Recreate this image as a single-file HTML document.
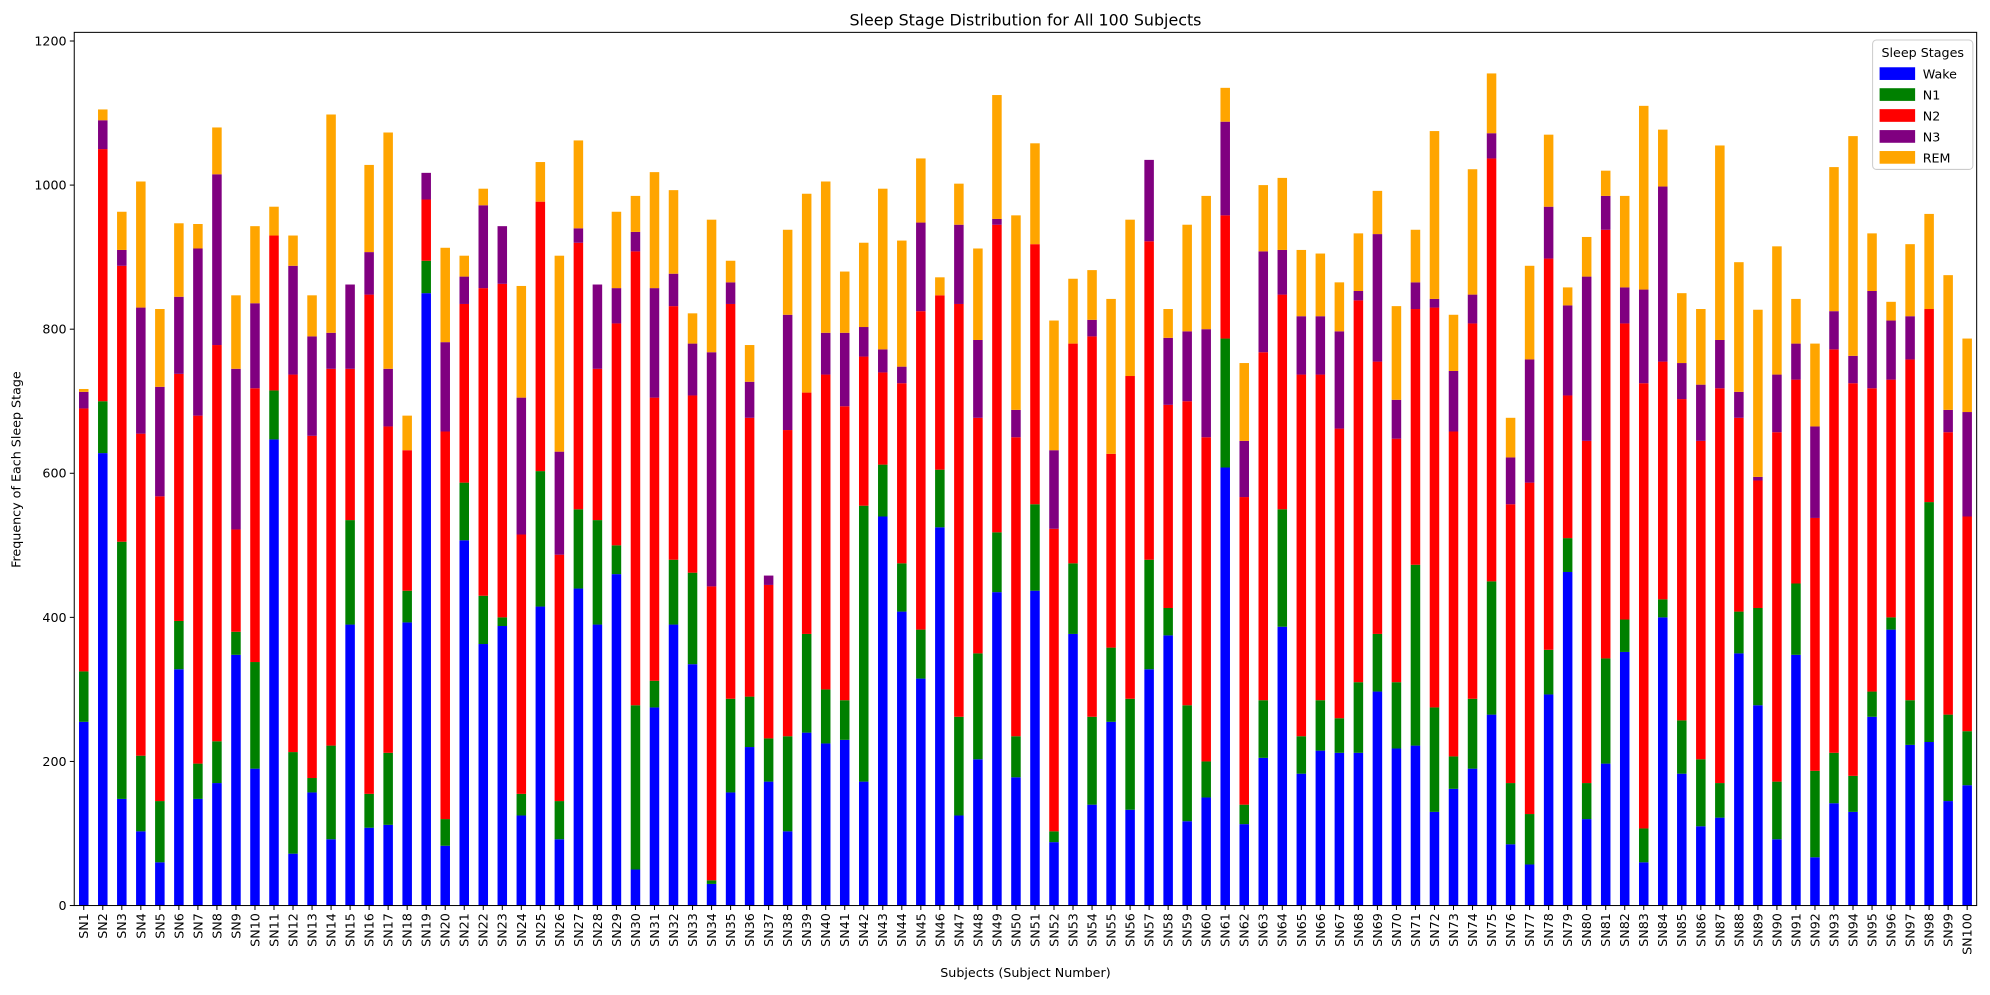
<!DOCTYPE html>
<html><head><meta charset="utf-8"><style>
body{margin:0;background:#fff;font-family:"Liberation Sans","DejaVu Sans",sans-serif;overflow:hidden}
svg text{font-family:"DejaVu Sans","Liberation Sans",sans-serif;fill:#000}
</style></head><body>
<svg id="chart" width="1990" height="990" viewBox="0 0 1568 780.05" preserveAspectRatio="none" xmlns="http://www.w3.org/2000/svg">
<rect width="1568" height="781" fill="#fff"/>
<text x="808" y="20" font-size="12.5" text-anchor="middle">Sleep Stage Distribution for All 100 Subjects</text>
<text transform="translate(16,370) rotate(-90)" font-size="10" text-anchor="middle">Frequency of Each Sleep Stage</text>
<text x="808" y="770" font-size="10" text-anchor="middle">Subjects (Subject Number)</text>
<g id="bars"></g>
<g id="yaxis"></g>
<g id="xaxis"></g>
<rect x="58.5" y="25.5" width="1499" height="688" fill="none" stroke="#000" stroke-width="0.8"/>
<g>
<rect x="1475.5" y="31.5" width="79" height="102" fill="#fff" fill-opacity="0.8" stroke="#ccc" stroke-width="0.8" rx="3"/>
<text x="1515" y="45" font-size="10" text-anchor="middle">Sleep Stages</text>
<g id="legend-items"></g>
</g>
</svg>
<script>
const subjects = Array.from({length:100},(_,i)=>'SN'+(i+1));
const yTicks = [0,200,400,600,800,1000,1200];
const stageNames = ['Wake','N1','N2','N3','REM'];
const stageColors = ['#0000ff','#008000','#ff0000','#800080','#ffa500'];
// cumulative boundaries
const wakeCum=[255,628,148,103,60,328,148,170,348,190,647,72,157,92,390,108,112,393,850,83,507,363,388,125,415,92,440,390,460,50,275,390,335,30,157,220,172,103,240,225,230,172,540,408,315,525,125,203,435,178,437,88,377,140,255,133,328,375,117,150,608,113,205,387,183,215,212,212,297,218,222,130,162,190,265,85,57,293,463,120,197,352,60,400,183,110,122,350,278,92,348,67,142,130,262,383,223,227,145,167];
const n1Cum=[325,700,505,208,145,395,197,228,380,338,715,213,177,222,535,155,212,437,895,120,587,430,400,155,603,145,550,535,500,278,312,480,462,35,287,290,232,235,377,300,285,555,612,475,383,605,262,350,518,235,557,103,475,262,358,287,480,413,278,200,787,140,285,550,235,285,260,310,377,310,473,275,207,287,450,170,127,355,510,170,343,397,107,425,257,203,170,408,413,172,447,187,212,180,297,400,285,560,265,242];
const n2Cum=[690,1050,888,655,568,738,680,778,522,718,930,737,652,745,745,848,665,632,980,658,835,857,863,515,977,487,920,745,808,908,705,832,708,443,835,677,445,660,712,737,693,762,740,725,825,847,835,677,945,650,918,523,780,790,627,735,922,695,700,650,958,567,768,848,737,737,662,840,755,648,828,830,658,808,1037,557,587,898,708,645,938,808,725,755,703,645,718,677,590,657,730,538,772,725,718,730,758,828,657,540];
const n3Cum=[713,1090,910,830,720,845,912,1015,745,836,930,888,790,795,862,907,745,632,1017,782,873,972,943,705,977,630,940,862,857,935,857,877,780,768,865,727,458,820,712,795,795,803,772,748,948,847,945,785,953,688,918,632,780,813,627,735,1035,788,797,800,1088,645,908,910,818,818,797,853,932,702,865,842,742,848,1072,622,758,970,833,873,985,858,855,998,753,723,785,713,595,737,780,665,825,763,853,812,818,828,688,685];
const totalCum=[717,1105,963,1005,828,947,946,1080,847,943,970,930,847,1098,862,1028,1073,680,1017,913,902,995,943,860,1032,902,1062,862,963,985,1018,993,822,952,895,778,458,938,988,1005,880,920,995,923,1037,872,1002,912,1125,958,1058,812,870,882,842,952,1035,828,945,985,1135,753,1000,1010,910,905,865,933,992,832,938,1075,820,1022,1155,677,888,1070,858,928,1020,985,1110,1077,850,828,1055,893,827,915,842,780,1025,1068,933,838,918,960,875,787];
const wake=wakeCum.slice();
const n1=n1Cum.map((v,i)=>v-wakeCum[i]);
const n2=n2Cum.map((v,i)=>v-n1Cum[i]);
const n3=n3Cum.map((v,i)=>v-n2Cum[i]);
const rem=totalCum.map((v,i)=>v-n3Cum[i]);
const series=[wake,n1,n2,n3,rem];

const NS='http://www.w3.org/2000/svg';
const X0=58.5,X1=1557.5,Y0=713.5,Y1=25.5,YMAX=1212;
const xScale=i=>X0+(i+0.5)*(X1-X0)/subjects.length;
const yScale=v=>Y0-v*(Y0-Y1)/YMAX;
const bw=(X1-X0)/subjects.length*0.5;
function mk(tag,attrs,parent){const e=document.createElementNS(NS,tag);for(const k in attrs)e.setAttribute(k,attrs[k]);parent.appendChild(e);return e;}
const gb=document.getElementById('bars');
subjects.forEach((s,i)=>{
  let base=0;
  series.forEach((arr,k)=>{
    const v=arr[i];
    const r=mk('rect',{x:xScale(i)-bw/2,y:yScale(base+v),width:bw,height:Math.max(0,yScale(base)-yScale(base+v)),fill:stageColors[k]},gb);
    
    
    base+=v;
  });
});
const gy=document.getElementById('yaxis');
yTicks.forEach(t=>{
  const y=yScale(t);
  const l=mk('line',{x1:X0-3.5,x2:X0,y1:y,y2:y,stroke:'#000','stroke-width':0.8},gy);
  
  
  const tx=mk('text',{x:X0-6,y:y+3.5,'font-size':'10','text-anchor':'end'},gy);
  tx.textContent=t;
  
  
});
const gx=document.getElementById('xaxis');
subjects.forEach((s,i)=>{
  const x=xScale(i);
  const l=mk('line',{x1:x,x2:x,y1:Y0,y2:Y0+3.5,stroke:'#000','stroke-width':0.8},gx);
  
  
  const tx=mk('text',{transform:`translate(${x+3.5},${Y0+6}) rotate(-90)`,'font-size':'10','text-anchor':'end'},gx);
  tx.textContent=s;
  
  
});
const gl=document.getElementById('legend-items');
stageNames.forEach((n,k)=>{
  const y=53+k*16.5;
  const r=mk('rect',{x:1481,y:y,width:28,height:10,fill:stageColors[k]},gl);
  
  
  const t=mk('text',{x:1515,y:y+9,'font-size':'10'},gl);
  t.textContent=n;
  
  
});
</script>
</body></html>
